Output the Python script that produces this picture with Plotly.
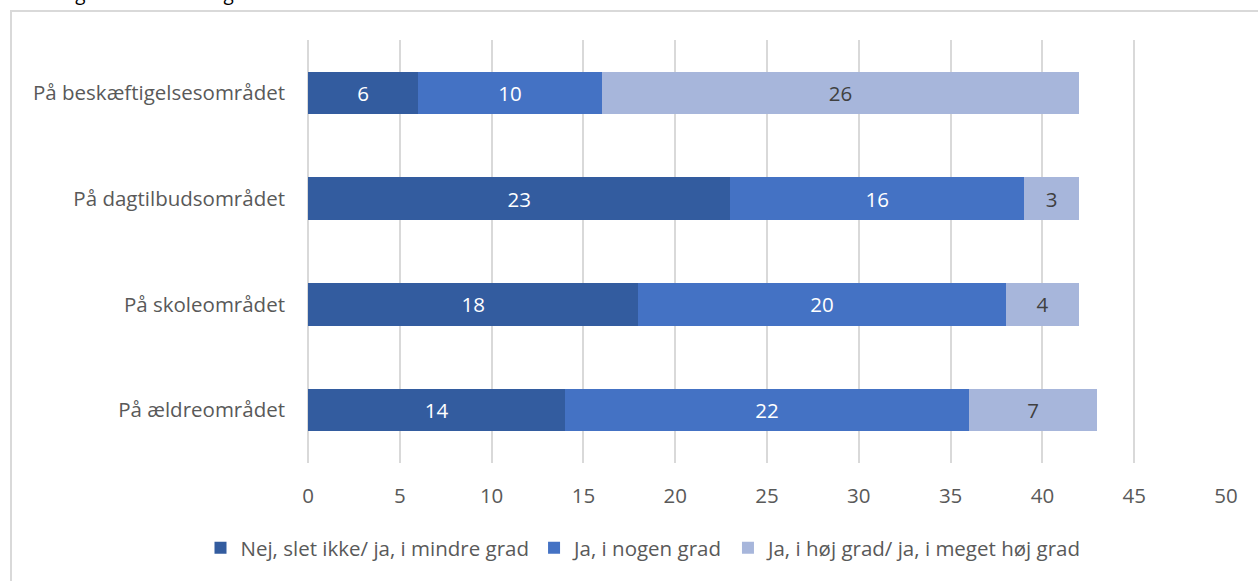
import plotly.graph_objects as go

categories = ["På beskæftigelsesområdet", "På dagtilbudsområdet", "På skoleområdet", "På ældreområdet"]
series_names = ["Nej, slet ikke/ ja, i mindre grad", "Ja, i nogen grad", "Ja, i høj grad/ ja, i meget høj grad"]
nej_vals = [6, 23, 18, 14]
nogen_vals = [10, 16, 20, 22]
hoj_vals = [26, 3, 4, 7]
x_ticks = [0, 5, 10, 15, 20, 25, 30, 35, 40, 45, 50]

colors = ["#335c9f", "#4472c4", "#a7b6db"]
text_colors = ["white", "white", "#404040"]
FS = 20.5

fig = go.Figure()
for name, vals, c, tc in zip(series_names, [nej_vals, nogen_vals, hoj_vals], colors, text_colors):
    fig.add_trace(go.Bar(
        y=categories, x=vals, name=name, orientation="h",
        marker=dict(color=c, line=dict(width=0)),
        text=[str(v) for v in vals], textposition="inside", insidetextanchor="middle",
        textfont=dict(color=tc, size=FS, family="Open Sans"),
        hoverinfo="x+y+name",
    ))

L, R, T, B = 308, 32, 40, 118
W, H = 1258, 581
pw, ph = W - L - R, H - T - B

def px(xp):
    return (xp - L) / pw

def py(yp):
    return (H - B - yp) / ph

fig.update_layout(
    barmode="stack", bargap=0.6,
    width=W, height=H,
    margin=dict(l=L, r=R, t=T, b=B),
    paper_bgcolor="white", plot_bgcolor="white",
    font=dict(family="Open Sans", color="#595959", size=FS),
    uniformtext=dict(minsize=8, mode="show"),
    xaxis=dict(range=[0, 50], tickvals=x_ticks, showgrid=True, gridcolor="#d9d9d9", gridwidth=2,
               zeroline=True, zerolinecolor="#d9d9d9", zerolinewidth=2, showline=False,
               tickfont=dict(size=FS, color="#595959"), ticks="", ticklabelstandoff=18),
    yaxis=dict(autorange="reversed", showgrid=False, showline=False, ticks="",
               tickfont=dict(size=FS, color="#595959"), ticklabelstandoff=22),
    legend=dict(orientation="h", x=px(644), xanchor="center", y=py(548), yanchor="middle",
                font=dict(size=FS, color="#595959"), traceorder="normal", itemwidth=30),
    showlegend=True,
    shapes=[dict(type="rect", xref="paper", yref="paper",
                 x0=px(11), x1=px(1265), y0=py(11), y1=py(590),
                 line=dict(color="#d9d9d9", width=2), fillcolor="rgba(0,0,0,0)", layer="below")],
    annotations=[dict(text="<i>Vurdering i samme retningen?</i>", xref="paper", yref="paper",
                      x=px(-2), y=py(8), xanchor="left", yanchor="bottom", showarrow=False,
                      font=dict(size=20, color="#000000", family="Open Sans"))],
)

fig.write_html("out.html")
